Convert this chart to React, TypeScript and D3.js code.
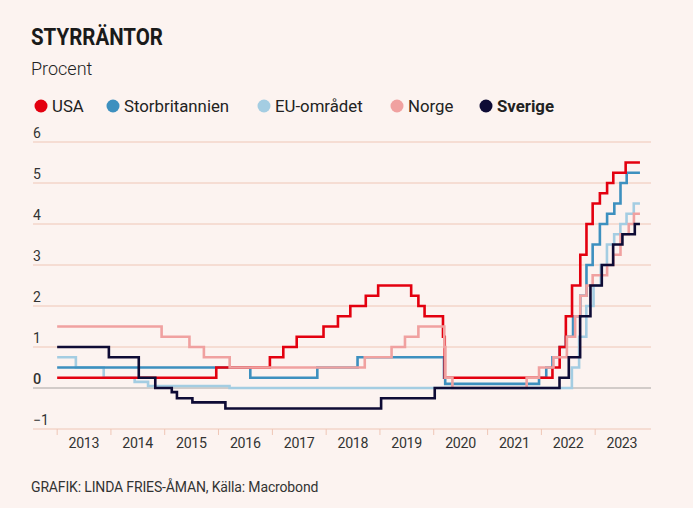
import React from "react";
import * as d3 from "d3";

// ---- Data (change points; value holds until next date) ----
const END_DATE = "2023-11-01";

const usaRates: [string, number][] = [
  ["2013-01-01", 0.25], ["2015-12-17", 0.5], ["2016-12-15", 0.75], ["2017-03-16", 1.0],
  ["2017-06-15", 1.25], ["2017-12-14", 1.5], ["2018-03-22", 1.75], ["2018-06-14", 2.0],
  ["2018-09-27", 2.25], ["2018-12-20", 2.5], ["2019-08-01", 2.25], ["2019-09-19", 2.0],
  ["2019-10-31", 1.75], ["2020-03-04", 1.25], ["2020-03-16", 0.25], ["2022-03-17", 0.5],
  ["2022-05-05", 1.0], ["2022-06-16", 1.75], ["2022-07-28", 2.5], ["2022-09-22", 3.25],
  ["2022-11-03", 4.0], ["2022-12-15", 4.5], ["2023-02-02", 4.75], ["2023-03-23", 5.0],
  ["2023-05-04", 5.25], ["2023-07-27", 5.5],
];

const ukRates: [string, number][] = [
  ["2013-01-01", 0.5], ["2016-08-04", 0.25], ["2017-11-02", 0.5], ["2018-08-02", 0.75],
  ["2020-03-11", 0.25], ["2020-03-19", 0.1], ["2021-12-16", 0.25], ["2022-02-03", 0.5],
  ["2022-03-17", 0.75], ["2022-05-05", 1.0], ["2022-06-16", 1.25], ["2022-08-04", 1.75],
  ["2022-09-22", 2.25], ["2022-11-03", 3.0], ["2022-12-15", 3.5], ["2023-02-02", 4.0],
  ["2023-03-23", 4.25], ["2023-05-11", 4.5], ["2023-06-22", 5.0], ["2023-08-03", 5.25],
];

const euRates: [string, number][] = [
  ["2013-01-01", 0.75], ["2013-05-08", 0.5], ["2013-11-13", 0.25], ["2014-06-11", 0.15],
  ["2014-09-10", 0.05], ["2016-03-16", 0.0], ["2022-07-27", 0.5], ["2022-09-14", 1.25],
  ["2022-11-02", 2.0], ["2022-12-21", 2.5], ["2023-02-08", 3.0], ["2023-03-22", 3.5],
  ["2023-05-10", 3.75], ["2023-06-21", 4.0], ["2023-08-02", 4.25], ["2023-09-20", 4.5],
];

const norwayRates: [string, number][] = [
  ["2013-01-01", 1.5], ["2014-12-11", 1.25], ["2015-06-18", 1.0], ["2015-09-24", 0.75],
  ["2016-03-17", 0.5], ["2018-09-20", 0.75], ["2019-03-21", 1.0], ["2019-06-20", 1.25],
  ["2019-09-19", 1.5], ["2020-03-13", 1.0], ["2020-03-20", 0.25], ["2020-05-07", 0.0],
  ["2021-09-23", 0.25], ["2021-12-16", 0.5], ["2022-03-24", 0.75], ["2022-06-23", 1.25],
  ["2022-08-18", 1.75], ["2022-09-22", 2.25], ["2022-11-03", 2.5], ["2022-12-15", 2.75],
  ["2023-03-23", 3.0], ["2023-05-04", 3.25], ["2023-06-22", 3.75], ["2023-08-17", 4.0],
  ["2023-09-21", 4.25],
];

const swedenRates: [string, number][] = [
  ["2013-01-01", 1.0], ["2013-12-18", 0.75], ["2014-07-09", 0.25], ["2014-10-29", 0.0],
  ["2015-02-18", -0.1], ["2015-03-25", -0.25], ["2015-07-08", -0.35], ["2016-02-17", -0.5],
  ["2019-01-09", -0.25], ["2020-01-08", 0.0], ["2022-05-04", 0.25], ["2022-07-06", 0.75],
  ["2022-09-21", 1.75], ["2022-11-30", 2.5], ["2023-02-15", 3.0], ["2023-05-03", 3.5],
  ["2023-07-05", 3.75], ["2023-09-27", 4.0],
];

const yTicks = [-1, 0, 1, 2, 3, 4, 5, 6];
const years = [2013, 2014, 2015, 2016, 2017, 2018, 2019, 2020, 2021, 2022, 2023];

const seriesNames = ["USA", "Storbritannien", "EU-området", "Norge", "Sverige"];
const seriesColors = ["#e3000f", "#3d90bf", "#a4cde2", "#f0a1a0", "#0e0b35"];
const seriesData = [usaRates, ukRates, euRates, norwayRates, swedenRates];
// drawing order (indices into series arrays)
const drawOrder = [2, 1, 0, 3, 4];

// ---- Layout ----
const W = 693;
const H = 508;
const plotLeft = 33;
const plotRight = 651;
const yTop = 142;
const yBottom = 429;
const legendX = [41, 113, 264, 397, 486];

const parse = d3.timeParse("%Y-%m-%d");

export default function App() {
  const x = d3
    .scaleTime()
    .domain([parse("2012-07-21")!, parse("2024-01-15")!])
    .range([plotLeft, plotRight]);
  const y = d3.scaleLinear().domain([-1, 6]).range([yBottom, yTop]);

  const line = d3
    .line<{ d: Date; v: number }>()
    .x((p) => x(p.d))
    .y((p) => y(p.v))
    .curve(d3.curveStepAfter);

  const toPoints = (arr: [string, number][]) => {
    const pts = arr.map(([d, v]) => ({ d: parse(d)!, v }));
    pts.push({ d: parse(END_DATE)!, v: arr[arr.length - 1][1] });
    return pts;
  };

  const font = "Roboto, 'Noto Sans', sans-serif";
  const textColor = "#222";

  return (
    <svg
      width={W}
      height={H}
      style={{ position: "absolute", left: 0, top: 0, background: "#fcf3f0" }}
    >
      <rect x={0} y={0} width={W} height={H} fill="#fcf3f0" />
      <text
        x={31}
        y={45}
        fontFamily={font}
        fontWeight={700}
        fontSize={23}
        fill="#1a1a1a"
        textLength={132}
        lengthAdjust="spacingAndGlyphs"
      >
        STYRRÄNTOR
      </text>
      <text x={31} y={75} fontFamily={font} fontWeight={300} fontSize={18} fill="#222">
        Procent
      </text>

      {seriesNames.map((n, i) => (
        <g key={n}>
          <circle cx={legendX[i]} cy={106} r={6.5} fill={seriesColors[i]} />
          <text
            x={legendX[i] + 11}
            y={112}
            fontFamily={font}
            fontSize={16.8}
            fontWeight={n === "Sverige" ? 700 : 400}
            fill={textColor}
          >
            {n}
          </text>
        </g>
      ))}

      {/* grid */}
      {yTicks.map((t) => (
        <g key={t}>
          <line
            x1={plotLeft}
            x2={plotRight}
            y1={y(t)}
            y2={y(t)}
            stroke={t === 0 ? "#a8a4a2" : "#efc6b6"}
            strokeWidth={1}
          />
          <text
            x={plotLeft}
            y={y(t) - 4}
            fontFamily={font}
            fontSize={t === 0 ? 14.5 : 14}
            fontWeight={t === 0 ? 500 : 400}
            fill="#333"
          >
            {t < 0 ? `\u2212${Math.abs(t)}` : t}
          </text>
        </g>
      ))}

      {/* x ticks */}
      {years.map((yr) => {
        const x0 = x(new Date(yr, 0, 1));
        const xm = x(new Date(yr, 6, 1));
        return (
          <g key={yr}>
            <line x1={x0} x2={x0} y1={yBottom} y2={yBottom + 6} stroke="#efc6b6" strokeWidth={1} />
            <text
              x={xm}
              y={448}
              textAnchor="middle"
              fontFamily={font}
              fontSize={14.2}
              fill="#333"
              letterSpacing={-0.3}
            >
              {yr}
            </text>
          </g>
        );
      })}

      {/* lines */}
      {drawOrder.map((i) => (
        <path
          key={seriesNames[i]}
          d={line(toPoints(seriesData[i])) || ""}
          fill="none"
          stroke={seriesColors[i]}
          strokeWidth={2.6}
          strokeLinejoin="miter"
        />
      ))}

      <text x={31} y={492} fontFamily={font} fontSize={14} fill="#333" letterSpacing={-0.15}>
        GRAFIK: LINDA FRIES-ÅMAN, Källa: Macrobond
      </text>
    </svg>
  );
}
